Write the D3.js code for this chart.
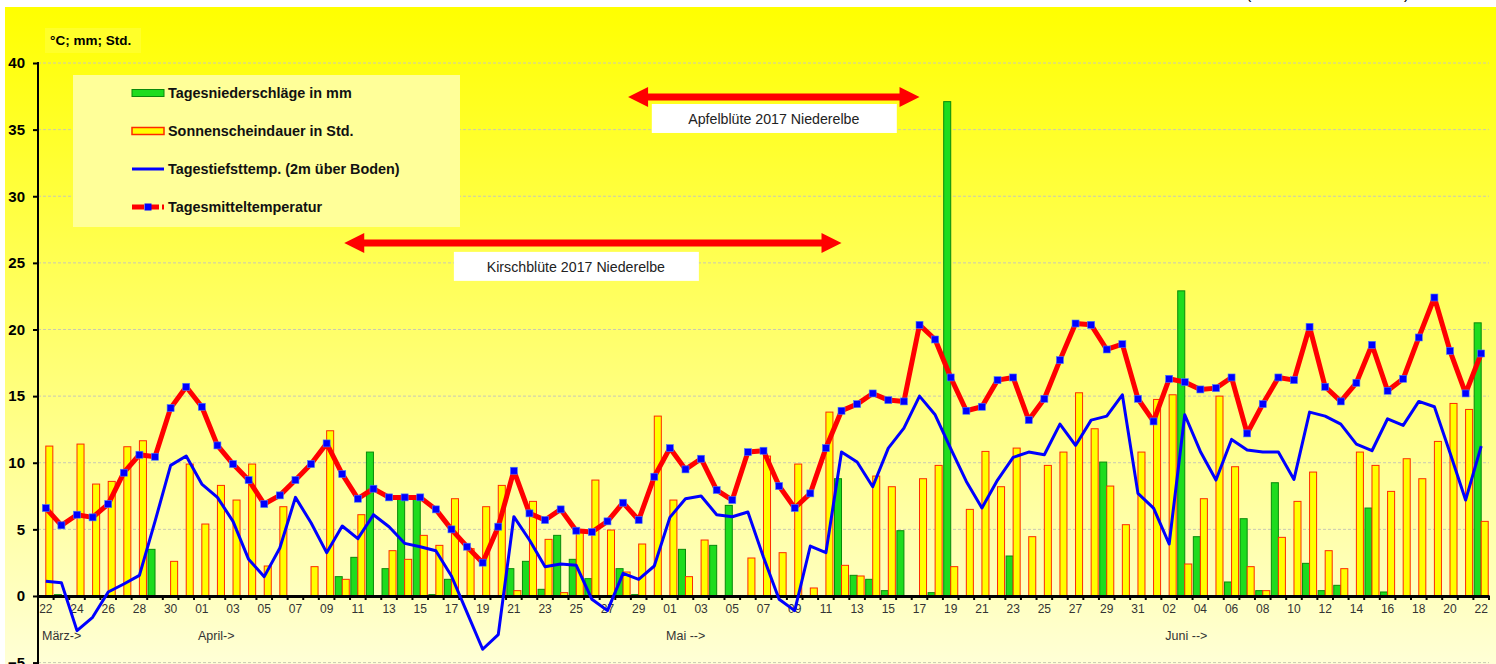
<!DOCTYPE html>
<html>
<head>
<meta charset="utf-8">
<script src="https://cdn.jsdelivr.net/npm/d3@7/dist/d3.min.js"></script>
<style>
  body { margin: 0; background: #fff; }
  text { font-family: Arial, "Liberation Sans", sans-serif; }
</style>
</head>
<body>
<script>
// Days of the season, 22 March to 22 June 2017
var days = d3.timeDays(new Date(2017, 2, 22), new Date(2017, 5, 23));

// Tagesniederschläge in mm
var rain = [0, 0.1, 0, 0, 0, 0, 0, 3.5, 0, 0,
            0, 0, 0, 0, 0, 0, 0, 0, 0, 1.45,
            2.9, 10.8, 2.05, 7.25, 7.25, 0.1, 1.25, 0, 0, 0,
            2.05, 2.6, 0.5, 4.55, 2.75, 1.3, 0, 2.05, 0.1, 0,
            0, 3.5, 0, 3.8, 6.8, 0, 0, 0, 0, 0,
            0, 8.8, 1.55, 1.25, 0.4, 4.9, 0, 0.25, 37.1, 0,
            0, 0, 3.0, 0, 0, 0, 0, 0, 10.05, 0,
            0, 0, 0, 22.9, 4.45, 0, 1.05, 5.8, 0.4, 8.5,
            0, 2.45, 0.4, 0.8, 0, 6.6, 0.3, 0, 0, 0,
            0, 0, 20.5];

// Sonnenscheindauer in Std.
var sunshine = [11.25, 0, 11.4, 8.4, 8.6, 11.2, 11.65, 0, 2.6, 9.9,
                5.4, 8.3, 7.2, 9.9, 2.25, 6.7, 0, 2.2, 12.4, 1.25,
                6.1, 0, 3.4, 2.75, 4.55, 3.8, 7.3, 3.55, 6.7, 8.3,
                0.4, 7.1, 4.25, 0.25, 4.8, 8.7, 4.95, 1.8, 3.9, 13.5,
                7.2, 1.45, 4.2, 0, 0, 2.85, 10.5, 3.25, 9.9, 0.6,
                13.8, 2.3, 1.5, 9.0, 8.2, 0, 8.8, 9.8, 2.2, 6.5,
                10.85, 8.2, 11.1, 4.45, 9.8, 10.8, 15.25, 12.55, 8.25, 5.35,
                10.8, 14.75, 15.1, 2.4, 7.3, 15.0, 9.7, 2.2, 0.4, 4.4,
                7.1, 9.3, 3.4, 2.05, 10.8, 9.8, 7.85, 10.3, 8.8, 11.6,
                14.45, 14.0, 5.6];

// Tagestiefsttemp. (2m über Boden)
var minTemp = [1.1, 1.0, -2.6, -1.6, 0.3, 0.9, 1.55, 5.6, 9.8, 10.5,
               8.4, 7.4, 5.6, 2.75, 1.45, 3.6, 7.4, 5.5, 3.25, 5.25,
               4.3, 6.1, 5.2, 3.95, 3.7, 3.4, 1.5, -1.25, -4.0, -2.9,
               5.95, 4.2, 2.2, 2.4, 2.3, -0.25, -1.1, 1.7, 1.25, 2.25,
               5.9, 7.3, 7.5, 6.1, 5.95, 6.3, 2.9, -0.25, -1.1, 3.75,
               3.25, 10.8, 10.05, 8.2, 11.1, 12.6, 15.0, 13.6, 11.05, 8.6,
               6.6, 8.7, 10.4, 10.8, 10.6, 12.9, 11.3, 13.2, 13.5, 15.1,
               7.7, 6.6, 3.9, 13.6, 10.85, 8.7, 11.75, 10.95, 10.8, 10.8,
               8.75, 13.8, 13.5, 12.9, 11.4, 10.9, 13.3, 12.8, 14.6, 14.2,
               10.75, 7.2, 11.25];

// Tagesmitteltemperatur
var meanTemp = [6.6, 5.3, 6.1, 5.9, 6.9, 9.25, 10.6, 10.45, 14.1, 15.7,
                14.2, 11.3, 9.9, 8.7, 6.9, 7.55, 8.7, 9.9, 11.45, 9.15,
                7.3, 8.05, 7.4, 7.4, 7.4, 6.5, 5.0, 3.7, 2.5, 5.2,
                9.4, 6.2, 5.7, 6.5, 4.9, 4.8, 5.6, 7.0, 5.7, 8.95,
                11.1, 9.5, 10.3, 7.95, 7.2, 10.8, 10.9, 8.25, 6.6, 7.7,
                11.1, 13.9, 14.4, 15.2, 14.7, 14.6, 20.35, 19.25, 16.4, 13.9,
                14.2, 16.2, 16.4, 13.2, 14.8, 17.7, 20.45, 20.35, 18.5, 18.9,
                14.8, 13.1, 16.3, 16.05, 15.5, 15.6, 16.4, 12.2, 14.4, 16.4,
                16.2, 20.2, 15.7, 14.6, 16.0, 18.85, 15.4, 16.3, 19.4, 22.4,
                18.4, 15.2, 18.2];

var yTicks = [-5, 0, 5, 10, 15, 20, 25, 30, 35, 40];

var monthLabels = [
  {label: "März->",   date: new Date(2017, 2, 22)},
  {label: "April->",  date: new Date(2017, 3, 1)},
  {label: "Mai -->",  date: new Date(2017, 4, 1)},
  {label: "Juni -->", date: new Date(2017, 5, 2)}
];

var blossoms = [
  {label: "Apfelblüte 2017 Niederelbe",  from: new Date(2017, 3, 28), to: new Date(2017, 4, 17), level: 37.45},
  {label: "Kirschblüte 2017 Niederelbe", from: new Date(2017, 3, 10), to: new Date(2017, 4, 12), level: 26.5}
];

var legendItems = ["Tagesniederschläge in mm", "Sonnenscheindauer in Std.",
                   "Tagestiefsttemp. (2m über Boden)", "Tagesmitteltemperatur"];

// ---------------------------------------------------------------
var W = 1496, H = 664;
var plotLeft = 38, plotRight = 1489, plotTop = 63;

var svg = d3.select("body").append("svg")
    .attr("width", W)
    .attr("height", H);

var grad = svg.append("defs").append("linearGradient")
    .attr("id", "bg").attr("x1", 0).attr("y1", 0).attr("x2", 0).attr("y2", 1);
grad.append("stop").attr("offset", "0%").attr("stop-color", "#ffff00");
grad.append("stop").attr("offset", "100%").attr("stop-color", "#ffffd6");

svg.append("rect")
    .attr("x", 5).attr("y", 7)
    .attr("width", W - 5).attr("height", H - 7)
    .attr("fill", "url(#bg)");

var index = d3.range(days.length);

var x = d3.scaleBand().domain(index).range([plotLeft, plotRight]).padding(0);
var x1 = d3.scaleBand().domain(["rain", "sun"]).range([0, x.bandwidth()]).paddingOuter(0.11);
var y = d3.scaleLinear().domain([-5, 40]).range([662.6, plotTop]);

function cx(i) { return x(i) + x.bandwidth() / 2; }
function dayIndex(d) { return d3.timeDay.count(days[0], d); }

// grid lines
svg.append("g").selectAll("line")
    .data(yTicks.filter(function(t) { return t != 0; }))
    .enter().append("line")
    .attr("x1", plotLeft).attr("x2", plotRight)
    .attr("y1", function(d) { return y(d); })
    .attr("y2", function(d) { return y(d); })
    .attr("stroke", "#c8c8b4")
    .attr("stroke-width", 1)
    .attr("stroke-dasharray", "3,2");

// unit label
svg.append("rect")
    .attr("x", 45).attr("y", 28).attr("width", 96).attr("height", 25)
    .attr("fill", "#ffff2a");
svg.append("text")
    .attr("x", 50).attr("y", 45)
    .style("font-size", "13.5px").style("font-weight", "bold")
    .text("°C; mm; Std.");

// title remainder, cut off at the top
svg.append("text").attr("x", 1246).attr("y", -1).style("font-size", "16px").text("(");
svg.append("text").attr("x", 1404).attr("y", -1).style("font-size", "16px").text(")");

// legend box
svg.append("rect")
    .attr("x", 73).attr("y", 75).attr("width", 387).attr("height", 152)
    .attr("fill", "#ffff99");

// bars
svg.append("g").selectAll("rect")
    .data(index.filter(function(i) { return rain[i] > 0; }))
    .enter().append("rect")
    .attr("x", function(i) { return x(i) + x1("rain"); })
    .attr("y", function(i) { return y(rain[i]); })
    .attr("width", x1.bandwidth())
    .attr("height", function(i) { return y(0) - y(rain[i]); })
    .attr("fill", "#1edc1e")
    .attr("stroke", "#0a8a0a")
    .attr("stroke-width", 1);

svg.append("g").selectAll("rect")
    .data(index.filter(function(i) { return sunshine[i] > 0; }))
    .enter().append("rect")
    .attr("x", function(i) { return x(i) + x1("sun"); })
    .attr("y", function(i) { return y(sunshine[i]); })
    .attr("width", x1.bandwidth())
    .attr("height", function(i) { return y(0) - y(sunshine[i]); })
    .attr("fill", "#ffff00")
    .attr("stroke", "#ff2a00")
    .attr("stroke-width", 1);

// y axis
var yAxis = svg.append("g")
    .attr("transform", "translate(" + plotLeft + ",0)")
    .call(d3.axisLeft(y).tickValues(yTicks).tickSize(5).tickPadding(8));
yAxis.select(".domain").remove();
yAxis.selectAll("line").attr("stroke", "#000").attr("stroke-width", 2);
yAxis.selectAll("text").style("font-size", "15px").style("font-weight", "bold")
    .style("font-family", "Arial, 'Liberation Sans', sans-serif").attr("fill", "#000");
svg.append("line")
    .attr("x1", plotLeft).attr("x2", plotLeft).attr("y1", plotTop - 1).attr("y2", H)
    .attr("stroke", "#000").attr("stroke-width", 2);

// x axis on the zero line
var fmtDay = d3.timeFormat("%d");
var xAxis = svg.append("g")
    .attr("transform", "translate(0," + y(0) + ")")
    .call(d3.axisBottom(x).tickSize(0).tickPadding(9)
      .tickFormat(function(i) { return i % 2 == 0 ? fmtDay(days[i]) : ""; }));
xAxis.select(".domain").attr("stroke", "#000").attr("stroke-width", 3);
xAxis.selectAll("text").style("font-size", "12px")
    .style("font-family", "Arial, 'Liberation Sans', sans-serif").attr("fill", "#333");

svg.append("g").selectAll("line")
    .data(d3.range(days.length + 1))
    .enter().append("line")
    .attr("x1", function(i) { return plotLeft + i * x.step(); })
    .attr("x2", function(i) { return plotLeft + i * x.step(); })
    .attr("y1", y(0)).attr("y2", y(0) + 4)
    .attr("stroke", "#000").attr("stroke-width", 2);

svg.append("g").selectAll("text")
    .data(monthLabels)
    .enter().append("text")
    .attr("x", function(d) { return x(dayIndex(d.date)) + 4; })
    .attr("y", 640)
    .attr("fill", "#333")
    .style("font-size", "12.5px")
    .text(function(d) { return d.label; });

// temperature lines
var minLine = d3.line()
    .x(function(i) { return cx(i); })
    .y(function(i) { return y(minTemp[i]); });
var meanLine = d3.line()
    .x(function(i) { return cx(i); })
    .y(function(i) { return y(meanTemp[i]); });

svg.append("path")
    .datum(index)
    .attr("d", minLine)
    .attr("fill", "none")
    .attr("stroke", "#0000ff")
    .attr("stroke-width", 3)
    .attr("stroke-linejoin", "round");

svg.append("path")
    .datum(index)
    .attr("d", meanLine)
    .attr("fill", "none")
    .attr("stroke", "#ff0000")
    .attr("stroke-width", 5)
    .attr("stroke-linejoin", "round");

svg.append("g").selectAll("rect")
    .data(index)
    .enter().append("rect")
    .attr("x", function(i) { return cx(i) - 3.5; })
    .attr("y", function(i) { return y(meanTemp[i]) - 3.5; })
    .attr("width", 7).attr("height", 7)
    .attr("fill", "#0000ff")
    .attr("stroke", "#4a7cff")
    .attr("stroke-width", 0.6);

// blossom arrows with their label boxes
function arrowPath(x0, x1, yy) {
  var hl = 20, hh = 10, st = 3.5;
  return "M" + x0 + "," + yy +
    "L" + (x0 + hl) + "," + (yy - hh) + "L" + (x0 + hl) + "," + (yy - st) +
    "L" + (x1 - hl) + "," + (yy - st) + "L" + (x1 - hl) + "," + (yy - hh) +
    "L" + x1 + "," + yy +
    "L" + (x1 - hl) + "," + (yy + hh) + "L" + (x1 - hl) + "," + (yy + st) +
    "L" + (x0 + hl) + "," + (yy + st) + "L" + (x0 + hl) + "," + (yy + hh) + "Z";
}

var boxShift = [0, -17];
blossoms.forEach(function(b, k) {
  var x0 = cx(dayIndex(b.from)) + (k == 0 ? 5 : 2);
  var xe = cx(dayIndex(b.to));
  var yy = y(b.level);
  svg.append("path")
      .attr("d", arrowPath(x0, xe, yy))
      .attr("fill", "#ff0000");
  var mid = (x0 + xe) / 2 + boxShift[k];
  svg.append("rect")
      .attr("x", mid - 122).attr("y", yy + 7 + k * 2)
      .attr("width", 245).attr("height", 29)
      .attr("fill", "#fff");
  svg.append("text")
      .attr("x", mid).attr("y", yy + 27 + k * 2)
      .attr("text-anchor", "middle")
      .attr("fill", "#222")
      .style("font-size", "14.2px")
      .text(b.label);
});

// legend entries
var lg = svg.append("g").selectAll("g")
    .data(legendItems)
    .enter().append("g")
    .attr("transform", function(d, i) { return "translate(132," + [93, 131, 169, 207][i] + ")"; });

lg.append("text")
    .attr("x", 36).attr("dy", "0.35em")
    .style("font-size", "14.4px").style("font-weight", "bold")
    .attr("fill", "#111")
    .text(function(d) { return d; });

lg.filter(function(d, i) { return i == 0; }).append("rect")
    .attr("x", 0).attr("y", -3.5).attr("width", 32).attr("height", 7)
    .attr("fill", "#1edc1e").attr("stroke", "#0a8a0a");
lg.filter(function(d, i) { return i == 1; }).append("rect")
    .attr("x", 0).attr("y", -3.5).attr("width", 32).attr("height", 7)
    .attr("fill", "#ffff00").attr("stroke", "#ff2a00").attr("stroke-width", 1.5);
lg.filter(function(d, i) { return i == 2; }).append("line")
    .attr("x1", 0).attr("x2", 32)
    .attr("stroke", "#0000ff").attr("stroke-width", 3);
var meanKey = lg.filter(function(d, i) { return i == 3; });
meanKey.append("line")
    .attr("x1", 0).attr("x2", 32)
    .attr("stroke", "#ff0000").attr("stroke-width", 5)
    .attr("stroke-dasharray", "12,3");
meanKey.append("rect")
    .attr("x", 12.5).attr("y", -3.5).attr("width", 7).attr("height", 7)
    .attr("fill", "#0000ff");
</script>
</body>
</html>
